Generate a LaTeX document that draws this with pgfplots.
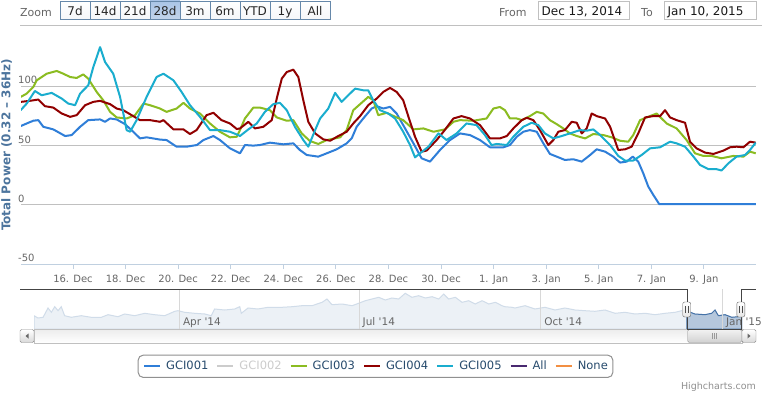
\documentclass[border=0pt]{standalone}
\usepackage{fontspec}
\setmainfont{DejaVu Sans}
\usepackage{pgfplots}
\pgfplotsset{compat=1.18}
\definecolor{c001}{HTML}{2F7ED8}
\definecolor{c002}{HTML}{CCCCCC}
\definecolor{c003}{HTML}{8BBC21}
\definecolor{c004}{HTML}{910000}
\definecolor{c005}{HTML}{1AADCE}
\definecolor{cAll}{HTML}{492970}
\definecolor{cNone}{HTML}{F28F43}
\definecolor{axisc}{HTML}{C0D0E0}
\definecolor{gridc}{HTML}{C0C0C0}
\definecolor{labc}{HTML}{666666}
\definecolor{titc}{HTML}{4D759E}
\definecolor{legc}{HTML}{274B6D}
\definecolor{btnb}{HTML}{6688AA}
\definecolor{btnbot}{HTML}{E6EAF0}
\definecolor{btnsel}{HTML}{A9C4E6}
\definecolor{navfill}{HTML}{B5C7DC}
\definecolor{navline}{HTML}{4572A7}
\definecolor{navfillm}{HTML}{ECF1F6}
\definecolor{navlinem}{HTML}{D0DCE9}
\definecolor{navgrid}{HTML}{D8D8D8}
\newcommand\fs[1]{\fontsize{#1bp}{#1bp}\selectfont}
\begin{document}
\begin{tikzpicture}[x=1bp,y=1bp]
\fill[white] (0,0) rectangle (762,393);
\useasboundingbox (0,0) rectangle (762,393);
% ---------- range selector ----------
\node[anchor=base west, inner sep=0, text=labc, font=\fs{11}] at (20,376.5) {Zoom};
\foreach \lab/\fillc [count=\i from 0] in {7d/white,14d/white,21d/white,28d/btnsel,3m/white,6m/white,YTD/white,1y/white,All/white} {
  \draw[draw=btnb, top color=\fillc, bottom color=\fillc!60!btnbot] ({60+30*\i},374) rectangle ({90+30*\i},392);
  \node[anchor=base, inner sep=0, font=\fs{12}, text=black!85] at ({75+30*\i},377.5) {\lab};
}
\node[anchor=base west, inner sep=0, text=labc, font=\fs{11}] at (499,377) {From};
\draw[draw=gridc, fill=white] (538,374) rectangle (629,392);
\node[anchor=base west, inner sep=0, font=\fs{12}, text=black!90] at (541.5,378) {Dec 13, 2014};
\node[anchor=base west, inner sep=0, text=labc, font=\fs{11}] at (641,377) {To};
\draw[draw=gridc, fill=white] (664,374) rectangle (756,392);
\node[anchor=base west, inner sep=0, font=\fs{12}, text=black!90] at (667.5,378) {Jan 10, 2015};
\draw[gridc, line width=1bp] (20,367.5) -- (762,367.5);
% ---------- y axis title ----------
\node[rotate=90, inner sep=0, font=\fs{12}\bfseries, text=titc] at (6.7,248) {Total Power (0.32 – 36Hz)};
% ---------- main chart ----------
\begin{axis}[
  at={(21bp,129bp)}, anchor=south west, scale only axis,
  width=735bp, height=237bp,
  xmin=14.022, xmax=41.98, ymin=-50, ymax=150,
  axis x line*=bottom, axis y line*=left,
  y axis line style={draw=none},
  x axis line style={draw=axisc, line width=1bp},
  xtick={14,16,...,40},
  xticklabels={,16. Dec,18. Dec,20. Dec,22. Dec,24. Dec,26. Dec,28. Dec,30. Dec,1. Jan,3. Jan,5. Jan,7. Jan,9. Jan},
  tick align=outside, major tick length=5bp,
  xtick style={draw=axisc, line width=1bp},
  ytick={-50,0,50,100}, ytick style={draw=none},
  ymajorgrids, grid style={draw=gridc, line width=1bp},
  /pgf/number format/assume math mode=true,
  xticklabel style={font=\fs{10}, text=labc, anchor=base, yshift=-13.3bp},
  yticklabel style={font=\fs{10}, text=labc, anchor=base west, inner xsep=0bp, xshift=2bp, yshift=2.4bp},
  every axis plot/.append style={line width=2bp, line join=round, no markers},
  legend image code/.code={\draw[#1, line width=2bp] (0bp,0bp) -- (16bp,0bp);},
  legend columns=7,
  legend style={at={(axis description cs:0.4823,-0.4316)}, anchor=center,
    draw={rgb,255:red,144;green,144;blue,144}, rounded corners=5bp, line width=1bp,
    font=\fs{11.5}, text=legc, inner xsep=5bp, inner ysep=6bp,
    nodes={inner sep=0bp},
    /tikz/every odd column/.append style={column sep=5bp},
    /tikz/every even column/.append style={column sep=8bp}},
  legend cell align=left,
]
\addplot[c001] coordinates {(14.01,66.4)(14.24,68.6)(14.49,70.9)(14.68,71.4)(14.87,65.8)(15.25,63.6)(15.70,58.0)(15.95,58.8)(16.27,65.8)(16.58,71.4)(17.03,72.0)(17.22,70.0)(17.41,72.8)(17.66,72.0)(17.98,68.0)(18.29,61.6)(18.55,56.0)(18.80,56.9)(19.31,55.0)(19.56,54.6)(19.94,49.0)(20.32,49.0)(20.71,50.4)(20.96,54.6)(21.34,58.0)(21.59,54.6)(21.97,47.6)(22.35,43.4)(22.54,50.4)(22.86,49.9)(23.11,50.4)(23.49,52.4)(24.00,51.0)(24.38,51.8)(24.63,46.2)(24.89,42.0)(25.33,40.6)(25.65,43.4)(26.03,46.8)(26.41,51.8)(26.60,56.0)(26.79,65.8)(27.04,72.8)(27.36,81.2)(27.55,83.2)(27.80,81.2)(28.06,82.6)(28.31,77.0)(28.56,67.2)(28.95,51.8)(29.26,39.2)(29.58,36.4)(29.96,46.2)(30.34,54.6)(30.72,60.2)(31.10,58.8)(31.48,54.6)(31.86,48.5)(32.37,48.5)(32.62,50.4)(32.88,57.4)(33.13,61.6)(33.38,63.0)(33.64,61.6)(33.89,51.8)(34.14,42.9)(34.40,40.6)(34.71,37.8)(35.03,38.4)(35.35,36.4)(35.67,42.0)(35.92,46.8)(36.24,44.8)(36.55,40.6)(36.81,35.6)(37.06,36.4)(37.29,40.6)(37.50,36.4)(37.69,26.6)(37.88,15.4)(38.07,8.4)(38.30,0.5)(41.97,0.5)};
\addlegendentry{GCI001}
\addlegendimage{c002}
\addlegendentry{\textcolor{c002}{GCI002}}
\addplot[c003] coordinates {(14.01,91.0)(14.24,93.8)(14.49,99.4)(14.62,105.0)(15.00,110.6)(15.38,112.9)(15.63,110.6)(15.89,107.8)(16.14,107.0)(16.39,110.0)(16.58,106.4)(16.90,95.2)(17.15,88.2)(17.41,78.4)(17.66,73.7)(18.04,72.8)(18.36,75.6)(18.68,85.4)(18.93,84.0)(19.31,81.2)(19.56,78.4)(19.94,81.2)(20.20,86.0)(20.45,81.2)(20.83,77.0)(21.21,68.6)(21.59,61.6)(21.97,56.9)(22.23,57.4)(22.35,63.0)(22.54,72.8)(22.86,82.0)(23.11,82.0)(23.49,79.8)(23.75,73.7)(24.13,70.9)(24.38,71.4)(24.70,60.2)(25.01,53.8)(25.33,51.3)(25.65,54.6)(26.16,56.9)(26.41,63.0)(26.66,79.8)(26.92,84.9)(27.23,91.0)(27.42,88.2)(27.61,75.6)(27.93,77.6)(28.31,73.7)(28.56,71.4)(28.95,63.6)(29.33,64.4)(29.71,61.6)(30.15,63.6)(30.47,70.0)(30.72,71.4)(31.23,70.9)(31.73,72.8)(31.99,81.2)(32.24,82.5)(32.43,79.8)(32.62,72.8)(32.88,72.8)(33.07,71.4)(33.38,74.8)(33.64,78.4)(33.89,77.0)(34.14,71.4)(34.40,68.0)(34.65,64.4)(34.90,60.2)(35.16,58.0)(35.48,56.0)(35.79,59.7)(36.17,58.8)(36.49,56.9)(36.81,54.0)(37.12,53.2)(37.31,58.8)(37.57,71.4)(37.82,73.7)(38.20,77.0)(38.39,72.8)(38.58,68.6)(38.96,64.4)(39.34,54.6)(39.66,43.4)(39.98,41.2)(40.29,41.2)(40.67,39.2)(41.12,41.2)(41.50,40.6)(41.75,44.8)(41.97,43.4)};
\addlegendentry{GCI003}
\addplot[c004] coordinates {(14.01,86.8)(14.36,87.7)(14.68,88.8)(14.93,83.2)(15.25,82.0)(15.57,77.0)(15.89,74.2)(16.14,75.6)(16.46,84.0)(16.77,86.8)(17.03,87.7)(17.41,84.9)(17.66,81.2)(17.91,79.8)(18.23,75.6)(18.55,71.4)(18.93,71.4)(19.31,70.0)(19.44,71.4)(19.82,63.6)(20.20,63.6)(20.45,59.7)(20.70,63.0)(21.08,75.6)(21.34,77.6)(21.65,71.4)(21.97,68.6)(22.23,63.9)(22.35,64.4)(22.67,70.0)(22.92,64.4)(23.24,65.8)(23.56,71.4)(23.75,89.6)(23.94,106.4)(24.13,112.0)(24.38,114.0)(24.57,107.8)(24.76,88.2)(24.95,70.0)(25.21,60.2)(25.52,55.2)(25.78,54.0)(26.09,58.0)(26.41,61.6)(26.66,68.6)(26.92,74.8)(27.23,84.0)(27.55,89.6)(27.80,95.2)(28.06,98.6)(28.31,95.2)(28.56,88.2)(28.76,74.2)(29.01,57.4)(29.26,44.8)(29.45,45.7)(29.83,54.6)(30.09,61.6)(30.47,72.8)(30.78,74.8)(31.10,72.8)(31.48,67.2)(31.86,56.0)(32.24,56.0)(32.50,58.0)(32.75,64.4)(33.07,71.4)(33.26,73.4)(33.51,71.4)(33.76,63.0)(34.08,50.4)(34.27,54.6)(34.46,61.6)(34.71,63.0)(34.97,70.0)(35.16,69.2)(35.35,60.2)(35.54,64.4)(35.73,77.0)(35.92,74.8)(36.24,72.8)(36.43,65.8)(36.74,46.2)(37.00,46.8)(37.25,49.0)(37.50,60.2)(37.76,73.7)(38.07,74.8)(38.33,74.8)(38.52,79.8)(38.71,73.7)(38.96,71.4)(39.28,69.2)(39.47,53.2)(39.72,47.6)(40.04,44.0)(40.36,42.9)(40.74,45.7)(40.99,48.5)(41.24,49.0)(41.50,48.5)(41.75,53.2)(41.97,52.4)};
\addlegendentry{GCI004}
\addplot[c005] coordinates {(14.01,79.8)(14.24,85.4)(14.55,96.0)(14.81,92.4)(15.19,94.4)(15.57,89.6)(15.82,85.4)(16.08,84.0)(16.27,93.8)(16.58,100.8)(16.77,116.0)(17.03,133.0)(17.22,120.4)(17.53,110.6)(17.79,91.0)(18.04,63.0)(18.17,61.6)(18.42,71.4)(18.80,91.0)(19.18,107.8)(19.44,110.6)(19.82,105.0)(20.13,95.2)(20.45,84.0)(20.83,74.2)(21.21,63.0)(21.59,63.0)(21.97,61.6)(22.29,58.8)(22.35,58.0)(22.67,63.6)(22.99,68.6)(23.30,78.4)(23.62,84.9)(23.87,86.0)(24.13,79.8)(24.44,65.8)(24.76,54.6)(24.95,49.0)(25.21,63.0)(25.40,72.8)(25.71,81.2)(25.97,94.4)(26.22,86.8)(26.47,92.4)(26.73,98.0)(27.04,96.6)(27.23,96.6)(27.42,88.2)(27.68,79.8)(27.99,77.0)(28.25,72.8)(28.56,61.6)(28.82,50.4)(29.01,40.0)(29.20,43.4)(29.52,49.0)(29.90,60.2)(30.21,54.6)(30.59,60.2)(30.97,68.6)(31.35,67.2)(31.67,58.8)(31.92,50.4)(32.12,51.3)(32.50,50.4)(32.75,57.4)(33.13,65.8)(33.45,69.2)(33.70,67.2)(33.95,60.2)(34.27,56.0)(34.59,58.0)(34.90,60.2)(35.29,63.0)(35.54,62.5)(35.79,63.6)(36.05,58.8)(36.43,50.4)(36.74,41.2)(37.00,37.3)(37.31,37.3)(37.63,42.0)(37.95,47.6)(38.33,48.5)(38.71,53.2)(38.96,51.8)(39.28,49.0)(39.60,40.6)(39.85,33.6)(40.17,30.0)(40.48,30.0)(40.67,28.9)(40.93,35.0)(41.24,40.6)(41.56,42.0)(41.75,46.2)(41.97,52.4)};
\addlegendentry{GCI005}
\addlegendimage{cAll}
\addlegendentry{All}
\addlegendimage{cNone}
\addlegendentry{None}
\end{axis}
% ---------- navigator ----------
\begin{axis}[
  at={(34bp,64bp)}, anchor=south west, scale only axis,
  width=708bp, height=40bp,
  xmin=-316.6, xmax=41.98, ymin=0, ymax=80,
  axis line style={draw=none},
  xtick={-243,-152,-60,32},
  xticklabels={Apr \textquotesingle14,Jul \textquotesingle14,Oct \textquotesingle14,Jan \textquotesingle15},
  xtick style={draw=none}, ytick=\empty,
  xmajorgrids, grid style={draw=navgrid, line width=1bp},
  axis on top,
  xticklabel style={font=\fs{10.5}, text=labc, anchor=base west, inner sep=0bp, xshift=3.5bp, yshift=4bp},
]
\pgfplotstableread{
x y
-316.6 26.6
-314.6 22.0
-312.0 23.4
-309.5 42.0
-307.8 33.4
-306.1 44.6
-304.4 36.6
-302.8 44.6
-301.1 26.6
-297.7 23.4
-292.7 26.6
-287.6 23.4
-282.5 23.4
-279.1 28.6
-274.1 24.6
-270.7 30.0
-265.6 26.6
-260.5 31.4
-255.5 28.6
-250.4 26.6
-245.3 35.4
-243.7 36.6
-240.3 33.4
-235.2 31.4
-230.1 30.0
-226.8 26.6
-225.1 40.0
-220.0 38.0
-215.0 40.0
-212.4 44.6
-211.6 31.4
-208.2 42.0
-203.2 40.0
-198.1 43.4
-196.1 43.4
-191.0 43.4
-185.9 44.6
-180.9 46.6
-175.8 46.6
-170.7 53.4
-168.2 60.0
-165.7 48.6
-160.6 50.0
-155.5 46.6
-152.2 51.4
-148.8 56.6
-145.4 60.0
-142.0 63.4
-138.7 58.0
-135.3 62.0
-131.9 60.0
-128.6 71.4
-125.2 63.4
-121.8 66.6
-118.4 62.0
-115.0 64.6
-111.6 60.0
-109.1 70.0
-106.6 60.0
-103.2 63.4
-99.8 53.4
-96.4 56.6
-93.1 50.0
-89.7 56.6
-86.3 50.0
-82.9 53.4
-79.6 46.6
-78.1 44.6
-74.5 43.4
-73.0 42.0
-67.9 46.6
-62.9 40.0
-57.8 43.4
-52.7 38.0
-47.7 42.0
-42.6 38.0
-37.5 36.6
-32.5 35.4
-27.4 38.0
-22.3 31.4
-17.3 33.4
-12.2 30.0
-7.1 31.4
-2.1 28.6
3.0 31.4
8.1 33.4
11.4 36.6
14.0 36.0
14.5 35.4
18.1 30.0
23.2 28.6
26.6 31.4
28.3 38.0
30.0 26.6
33.4 28.6
36.8 23.4
40.1 24.6
41.98 24.6
}\navdata
\addplot[draw=navlinem, fill=navfillm, line width=1bp] table {\navdata} \closedcycle;
\addplot[draw=navline, fill=navfill, line width=1bp, restrict x to domain=13.9:42.1] table {\navdata} \closedcycle;
\end{axis}
% ---------- scrollbar ----------
\draw[draw=gridc, top color={rgb,255:red,236;green,236;blue,236}, bottom color=white] (34,50) rectangle (742,64);
\draw[draw=black!45, top color=white, bottom color=black!15, rounded corners=1.5bp] (20,50.5) rectangle (34,63.5);
\fill[black!60] (25.5,57) -- (28.5,59.5) -- (28.5,54.5) -- cycle;
\draw[draw=black!45, top color=white, bottom color=black!15, rounded corners=1.5bp] (742,50.5) rectangle (756,63.5);
\fill[black!60] (750.5,57) -- (747.5,59.5) -- (747.5,54.5) -- cycle;
\draw[draw=black!45, top color=black!5, bottom color=black!18, rounded corners=1.5bp] (687.7,50.5) rectangle (741.7,63.5);
\foreach \xx in {712.7,714.7,716.7} \draw[black!40, line width=0.8bp] (\xx,54) -- (\xx,60);
% ---------- navigator outline and handles ----------
\draw[draw={rgb,255:red,68;green,68;blue,68}, line width=1bp] (20,104) -- (687.7,104) -- (687.7,64) -- (741.7,64) -- (741.7,104) -- (756,104);
\foreach \hx in {686.7,740.8} {
  \draw[draw=black!60, top color=white, bottom color=black!10, rounded corners=2bp] (\hx-4,76) rectangle (\hx+4,91);
  \draw[black!70, line width=0.8bp] (\hx-1.5,80) -- (\hx-1.5,87) (\hx+1.5,80) -- (\hx+1.5,87);
}
% ---------- credits ----------
\node[anchor=base east, inner sep=0, font=\fs{9.5}, text={rgb,255:red,144;green,144;blue,144}] at (756,3.5) {Highcharts.com};
\end{tikzpicture}
\end{document}
